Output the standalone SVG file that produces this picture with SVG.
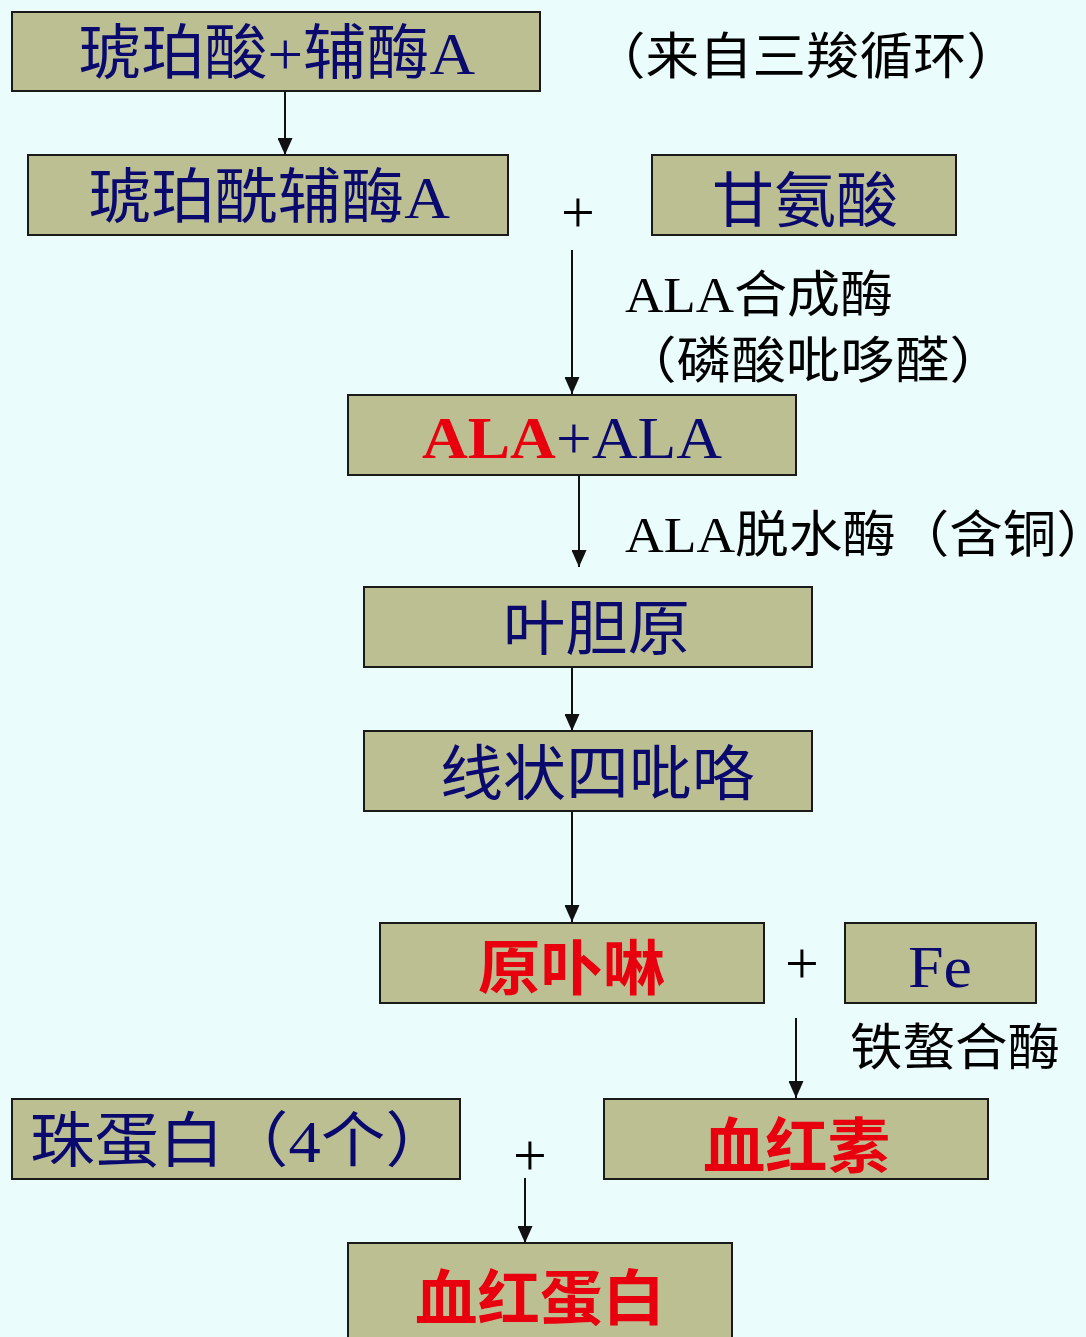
<svg xmlns="http://www.w3.org/2000/svg" width="1086" height="1337" viewBox="0 0 1086 1337">
<defs>
<marker id="ah" markerWidth="17" markerHeight="15" refX="17" refY="7.5" orient="auto" markerUnits="userSpaceOnUse" viewBox="0 0 17 15">
<path d="M0,0 L17,7.5 L0,15 Z" fill="#111"/>
</marker>
<style>
.box{fill:#bcbf92;stroke:#1a1a1a;stroke-width:2}
.t{font-family:"Liberation Serif","Noto Sans CJK SC",serif;font-size:60px;fill:#0a0a6e}
.r{fill:#e8000f;font-weight:bold}
.lbl{font-family:"Liberation Serif","Noto Sans CJK SC",serif;font-size:50px;fill:#000}
.plus{font-family:"Liberation Serif",serif;font-size:60px;fill:#000;text-anchor:middle}
.c{stroke:#111;stroke-width:2;fill:none;marker-end:url(#ah)}
</style>
</defs>
<rect width="1086" height="1337" fill="#eafcfc"/>
<g id="connectors">
<line class="c" x1="285" y1="92" x2="285" y2="155"/>
<line class="c" x1="572" y1="250" x2="572" y2="394"/>
<line class="c" x1="579" y1="472" x2="579" y2="567"/>
<line class="c" x1="572" y1="668" x2="572" y2="731"/>
<line class="c" x1="572" y1="812" x2="572" y2="922"/>
<line class="c" x1="796" y1="1018" x2="796" y2="1098"/>
<line class="c" x1="525" y1="1178" x2="525" y2="1243"/>
</g>
<g id="n1"><rect class="box" x="12" y="12" width="528" height="79"/><text class="t" x="78" y="74" textLength="397" lengthAdjust="spacingAndGlyphs">琥珀酸+辅酶A</text></g>
<g id="note1"><text class="lbl" x="592" y="74" font-size="46" textLength="428" lengthAdjust="spacingAndGlyphs">（来自三羧循环）</text></g>
<g id="n2"><rect class="box" x="28" y="155" width="480" height="80"/><text class="t" x="88" y="218" textLength="362" lengthAdjust="spacingAndGlyphs">琥珀酰辅酶A</text></g>
<g id="plus1"><text class="plus" x="578" y="232">+</text></g>
<g id="n3"><rect class="box" x="652" y="155" width="304" height="80"/><text class="t" x="712" y="222" textLength="186" lengthAdjust="spacingAndGlyphs">甘氨酸</text></g>
<g id="enz1"><text class="lbl" x="625" y="312" textLength="268" lengthAdjust="spacingAndGlyphs">ALA合成酶</text><text class="lbl" x="622" y="378" textLength="382" lengthAdjust="spacingAndGlyphs">（磷酸吡哆醛）</text></g>
<g id="n4"><rect class="box" x="348" y="395" width="448" height="80"/><text class="t" x="422" y="458" textLength="300" lengthAdjust="spacingAndGlyphs"><tspan class="r">ALA</tspan>+ALA</text></g>
<g id="enz2"><text class="lbl" x="625" y="552" textLength="485" lengthAdjust="spacingAndGlyphs">ALA脱水酶（含铜）</text></g>
<g id="n5"><rect class="box" x="364" y="587" width="448" height="80"/><text class="t" x="503" y="650" textLength="187" lengthAdjust="spacingAndGlyphs">叶胆原</text></g>
<g id="n6"><rect class="box" x="364" y="731" width="448" height="80"/><text class="t" x="440" y="795" textLength="315" lengthAdjust="spacingAndGlyphs">线状四吡咯</text></g>
<g id="n7"><rect class="box" x="380" y="923" width="384" height="80"/><text class="t r" x="478" y="990" textLength="187" lengthAdjust="spacingAndGlyphs">原卟啉</text></g>
<g id="plus2"><text class="plus" x="802" y="983">+</text></g>
<g id="n8"><rect class="box" x="845" y="923" width="191" height="80"/><text class="t" x="908" y="987" textLength="64" lengthAdjust="spacingAndGlyphs">Fe</text></g>
<g id="enz3"><text class="lbl" x="850" y="1065" textLength="210" lengthAdjust="spacingAndGlyphs">铁螯合酶</text></g>
<g id="n9"><rect class="box" x="12" y="1099" width="448" height="80"/><text class="t" x="30" y="1162" textLength="420" lengthAdjust="spacingAndGlyphs">珠蛋白（4个）</text></g>
<g id="plus3"><text class="plus" x="530" y="1175">+</text></g>
<g id="n10"><rect class="box" x="604" y="1099" width="384" height="80"/><text class="t r" x="703" y="1168" textLength="187" lengthAdjust="spacingAndGlyphs">血红素</text></g>
<g id="n11"><rect class="box" x="348" y="1243" width="384" height="100"/><text class="t r" x="415" y="1320" textLength="250" lengthAdjust="spacingAndGlyphs">血红蛋白</text></g>
</svg>
